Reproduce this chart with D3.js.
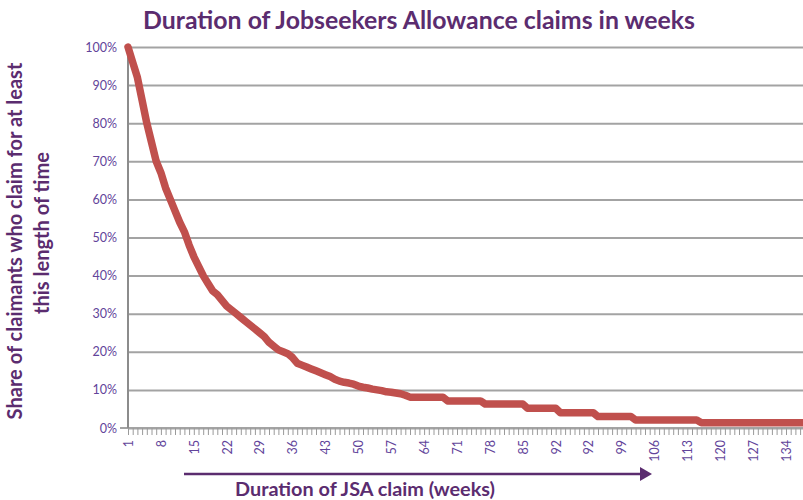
<!DOCTYPE html>
<html><head><meta charset="utf-8">
<script src="https://cdn.jsdelivr.net/npm/d3@7/dist/d3.min.js"></script>
<style>body{margin:0;background:#fff} svg{display:block}</style>
</head><body>
<svg id="chart" width="803" height="500"></svg>
<script>
// ---- data ----
const shares = [
  100, 96, 92, 86, 80, 75, 70, 67, 63, 60,
  57, 54, 51.5, 48, 45, 42.5, 40, 38, 36, 35,
  33.5, 32, 31, 30, 29, 28, 27, 26, 25, 24,
  22.5, 21.5, 20.5, 20, 19.5, 18.5, 17, 16.5, 16, 15.5,
  15, 14.5, 14, 13.5, 12.8, 12.3, 12, 11.8, 11.5, 11,
  10.7, 10.5, 10.2, 10, 9.8, 9.5, 9.4, 9.2, 9, 8.6,
  8.1, 8.1, 8.1, 8.1, 8.1, 8.1, 8.1, 8.1, 7.1, 7.1,
  7.1, 7.1, 7.1, 7.1, 7.1, 7.1, 6.3, 6.3, 6.3, 6.3,
  6.3, 6.3, 6.3, 6.3, 6.3, 5.2, 5.2, 5.2, 5.2, 5.2,
  5.2, 5.2, 4.0, 4.0, 4.0, 4.0, 4.0, 4.0, 4.0, 4.0,
  3.0, 3.0, 3.0, 3.0, 3.0, 3.0, 3.0, 3.0, 2.1, 2.1,
  2.1, 2.1, 2.1, 2.1, 2.1, 2.1, 2.1, 2.1, 2.1, 2.1,
  2.1, 2.1, 1.4, 1.4, 1.4, 1.4, 1.4, 1.4, 1.4, 1.4,
  1.4, 1.4, 1.4, 1.4, 1.4, 1.4, 1.4, 1.4, 1.4, 1.4,
  1.4, 1.4, 1.4, 1.4, 1.4, 1.4
];
const tickLabels = ["1","8","15","22","29","36","43","50","57","64","71","78","85","92","92","99","106","113","120","127","134"];
const labelEvery = 7;
const yTicks = [0,10,20,30,40,50,60,70,80,90,100];
const titleText = "Duration of Jobseekers Allowance claims in weeks";
const yTitleLines = ["Share of claimants who claim for at least", "this length of time"];
const xTitleText = "Duration of JSA claim (weeks)";

// ---- layout ----
const W = 803, H = 500;
const plotLeft = 128, plotTop = 47, plotBottom = 428, step = 4.7;
const purple = "#5b2c6f", tickPurple = "#62449a", grid = "#a3a3a3", red = "#c0504d";
const fontFam = "Lato, 'Open Sans', sans-serif";

const svg = d3.select("#chart");
const cats = d3.range(shares.length);
const x = d3.scalePoint().domain(cats).range([plotLeft, plotLeft + (shares.length - 1) * step]);
const y = d3.scaleLinear().domain([0, 100]).range([plotBottom, plotTop]);

// gridlines + y labels
const yAxis = svg.append("g").attr("transform", `translate(${plotLeft},0)`)
  .call(d3.axisLeft(y).tickValues(yTicks).tickSize(-(W - plotLeft)).tickPadding(11).tickFormat(d => d + "%"));
yAxis.select(".domain").remove();
yAxis.selectAll(".tick line").attr("stroke", grid).attr("stroke-width", 2);
yAxis.selectAll(".tick text").attr("fill", tickPurple).attr("font-family", fontFam).attr("font-size", 12.5);
// small 0% tick to the left
svg.append("line").attr("x1", plotLeft - 8).attr("x2", plotLeft).attr("y1", y(0)).attr("y2", y(0))
  .attr("stroke", grid).attr("stroke-width", 2);

// x axis (ticks at every category)
const xAxis = svg.append("g").attr("transform", `translate(0,${plotBottom})`)
  .call(d3.axisBottom(x).tickValues(cats).tickSize(7)
    .tickFormat(d => d % labelEvery === 0 && tickLabels[d / labelEvery] !== undefined ? tickLabels[d / labelEvery] : ""));
xAxis.select(".domain").attr("stroke", grid).attr("stroke-width", 2).attr("d", `M${plotLeft},0H${W}`);
xAxis.selectAll(".tick line").attr("stroke", "#9a9a9a").attr("stroke-width", 1);
xAxis.selectAll(".tick text")
  .attr("fill", tickPurple).attr("font-family", fontFam).attr("font-size", 12.5)
  .attr("transform", "rotate(-90)")
  .attr("text-anchor", "end").attr("x", -12).attr("y", 0).attr("dy", "0.35em");

// y axis line
svg.append("line").attr("x1", plotLeft).attr("x2", plotLeft).attr("y1", y(100)).attr("y2", y(0))
  .attr("stroke", "#8c8c8c").attr("stroke-width", 2);

// the curve
svg.append("path").datum(shares)
  .attr("fill", "none").attr("stroke", red).attr("stroke-width", 7.5)
  .attr("stroke-linejoin", "round").attr("stroke-linecap", "round")
  .attr("d", d3.line().x((d, i) => x(i)).y(d => y(d)));

// text helper: fit to a target width
function fit(sel, target) {
  const w = sel.node().getComputedTextLength();
  const fs = parseFloat(sel.attr("font-size"));
  sel.attr("font-size", (fs * target / w).toFixed(2));
}

// title
const t = svg.append("text").attr("x", 419).attr("y", 29).attr("text-anchor", "middle")
  .attr("font-family", fontFam).attr("font-weight", "bold").attr("font-size", 22)
  .attr("fill", purple).text(titleText);
fit(t, 552);

// y title
const yt1 = svg.append("text").attr("transform", "translate(22,241) rotate(-90)").attr("text-anchor", "middle")
  .attr("font-family", fontFam).attr("font-weight", "bold").attr("font-size", 18)
  .attr("fill", purple).text(yTitleLines[0]);
fit(yt1, 357);
const yt2 = svg.append("text").attr("transform", "translate(49,233) rotate(-90)").attr("text-anchor", "middle")
  .attr("font-family", fontFam).attr("font-weight", "bold").attr("font-size", yt1.attr("font-size"))
  .attr("fill", purple).text(yTitleLines[1]);

// x title + arrow
svg.append("line").attr("x1", 184).attr("x2", 642).attr("y1", 474).attr("y2", 474)
  .attr("stroke", purple).attr("stroke-width", 2.5);
svg.append("path").attr("d", "M640,467L652,474L640,481Z").attr("fill", purple);
const xt = svg.append("text").attr("x", 365).attr("y", 496).attr("text-anchor", "middle")
  .attr("font-family", fontFam).attr("font-weight", "bold").attr("font-size", 17)
  .attr("fill", purple).text(xTitleText);
fit(xt, 260);
</script>
</body></html>
